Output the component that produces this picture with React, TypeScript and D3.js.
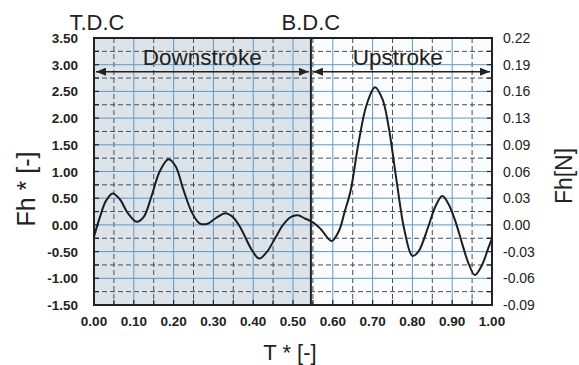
import React, { useEffect, useRef } from 'react';
import * as d3 from 'd3';

// Curve: T* (0..1) vs Fh* [-]
const tValues = [
  0.0, 0.015, 0.03, 0.047, 0.065, 0.085, 0.107, 0.125, 0.145, 0.165, 0.187, 0.205, 0.225, 0.245,
  0.265, 0.285, 0.305, 0.33, 0.35, 0.37, 0.395, 0.415, 0.435, 0.455, 0.475, 0.495, 0.512, 0.53,
  0.55, 0.57, 0.597, 0.615, 0.63, 0.645, 0.665, 0.685, 0.706, 0.725, 0.74, 0.76, 0.78, 0.8,
  0.815, 0.84, 0.858, 0.875, 0.89, 0.907, 0.925, 0.94, 0.957, 0.975, 0.99, 1.0,
];
const fhValues = [
  -0.22, 0.15, 0.45, 0.59, 0.48, 0.22, 0.06, 0.15, 0.55, 1.0, 1.23, 1.1, 0.65, 0.25,
  0.03, 0.02, 0.12, 0.22, 0.14, -0.08, -0.45, -0.63, -0.5, -0.25, 0.0, 0.15, 0.18, 0.12,
  0.05, -0.08, -0.3, -0.12, 0.25, 0.65, 1.55, 2.25, 2.58, 2.35, 1.85, 0.84, -0.1, -0.58,
  -0.5, -0.03, 0.35, 0.54, 0.4, 0.09, -0.35, -0.7, -0.94, -0.75, -0.45, -0.25,
];

const xTicks = [0, 0.1, 0.2, 0.3, 0.4, 0.5, 0.6, 0.7, 0.8, 0.9, 1.0];
const yTicks = [-1.5, -1.0, -0.5, 0, 0.5, 1.0, 1.5, 2.0, 2.5, 3.0, 3.5];
const rightTickLabels = ['-0.09', '-0.06', '-0.03', '0.00', '0.03', '0.06', '0.09', '0.13', '0.16', '0.19', '0.22'];

const bdc = 0.545; // boundary between the two strokes

const W = 579;
const H = 365;
const FONT = '"Liberation Sans", Arial, sans-serif';

const App = () => {
  const ref = useRef<SVGSVGElement>(null);

  useEffect(() => {
    const svg = d3.select(ref.current);
    svg.selectAll('*').remove();

    const x = d3.scaleLinear().domain([0, 1]).range([94, 492]);
    const y = d3.scaleLinear().domain([-1.5, 3.5]).range([305, 38]);

    // arrow markers
    const defs = svg.append('defs');
    defs.append('marker')
      .attr('id', 'ah')
      .attr('viewBox', '0 0 10 8')
      .attr('refX', 10)
      .attr('refY', 4)
      .attr('markerWidth', 10)
      .attr('markerHeight', 8)
      .attr('markerUnits', 'userSpaceOnUse')
      .attr('orient', 'auto-start-reverse')
      .append('path')
      .attr('d', 'M0,0 L10,4 L0,8 Z')
      .attr('fill', '#222');

    // backgrounds
    svg.append('rect')
      .attr('x', x(0)).attr('y', y(3.5))
      .attr('width', x(1) - x(0)).attr('height', y(-1.5) - y(3.5))
      .attr('fill', '#fbfcfd');
    svg.append('rect')
      .attr('x', x(0)).attr('y', y(3.5))
      .attr('width', x(bdc) - x(0)).attr('height', y(-1.5) - y(3.5))
      .attr('fill', '#dce3e9');

    const grid = svg.append('g');
    // dashed minor gridlines
    const minorX = d3.range(0.05, 1, 0.1);
    const minorY = d3.range(-1.25, 3.5, 0.5);
    grid.selectAll('.mx').data(minorX).enter().append('line')
      .attr('x1', d => x(d)).attr('x2', d => x(d))
      .attr('y1', y(3.5)).attr('y2', y(-1.5))
      .attr('stroke', '#4a4f55').attr('stroke-width', 1).attr('stroke-dasharray', '5,3');
    grid.selectAll('.my').data(minorY).enter().append('line')
      .attr('x1', x(0)).attr('x2', x(1))
      .attr('y1', d => y(d)).attr('y2', d => y(d))
      .attr('stroke', '#4a4f55').attr('stroke-width', 1).attr('stroke-dasharray', '5,3');
    // solid blue gridlines
    grid.selectAll('.gx').data(xTicks.slice(1, -1)).enter().append('line')
      .attr('x1', d => x(d)).attr('x2', d => x(d))
      .attr('y1', y(3.5)).attr('y2', y(-1.5))
      .attr('stroke', '#5f98c8').attr('stroke-width', 1);
    grid.selectAll('.gy').data(yTicks.slice(1, -1)).enter().append('line')
      .attr('x1', x(0)).attr('x2', x(1))
      .attr('y1', d => y(d)).attr('y2', d => y(d))
      .attr('stroke', '#5f98c8').attr('stroke-width', 1);

    // small inner ticks on the frame
    const tickG = svg.append('g').attr('stroke', '#222').attr('stroke-width', 1.2);
    minorY.concat(yTicks).forEach(v => {
      tickG.append('line').attr('x1', x(0)).attr('x2', x(0) + 5).attr('y1', y(v)).attr('y2', y(v));
      tickG.append('line').attr('x1', x(1)).attr('x2', x(1) - 5).attr('y1', y(v)).attr('y2', y(v));
    });
    minorX.concat(xTicks).forEach(v => {
      tickG.append('line').attr('x1', x(v)).attr('x2', x(v)).attr('y1', y(-1.5)).attr('y2', y(-1.5) - 5);
    });

    // stroke boundary
    svg.append('line')
      .attr('x1', x(bdc)).attr('x2', x(bdc))
      .attr('y1', y(3.5)).attr('y2', y(-1.5))
      .attr('stroke', '#222').attr('stroke-width', 2);

    // frame
    svg.append('rect')
      .attr('x', x(0)).attr('y', y(3.5))
      .attr('width', x(1) - x(0)).attr('height', y(-1.5) - y(3.5))
      .attr('fill', 'none').attr('stroke', '#222').attr('stroke-width', 2);

    // curve
    const pts = tValues.map((t, i) => [t, fhValues[i]] as [number, number]);
    const line = d3.line<[number, number]>()
      .x(d => x(d[0]))
      .y(d => y(d[1]))
      .curve(d3.curveCatmullRom.alpha(0.5));
    svg.append('path')
      .attr('d', line(pts))
      .attr('fill', 'none')
      .attr('stroke', '#1e1e1e')
      .attr('stroke-width', 2);

    // stroke arrows
    const arrowY = 71.7;
    [[0, bdc], [bdc, 1]].forEach(([a, b]) => {
      svg.append('line')
        .attr('x1', x(a) + 2).attr('x2', x(b) - 2)
        .attr('y1', arrowY).attr('y2', arrowY)
        .attr('stroke', '#222').attr('stroke-width', 1.6)
        .attr('marker-start', 'url(#ah)')
        .attr('marker-end', 'url(#ah)');
    });
    svg.append('text')
      .attr('x', x(0.272)).attr('y', 65)
      .attr('text-anchor', 'middle')
      .attr('font-family', FONT).attr('font-size', 22.5).attr('fill', '#222')
      .text('Downstroke');
    svg.append('text')
      .attr('x', x(0.763)).attr('y', 65)
      .attr('text-anchor', 'middle')
      .attr('font-family', FONT).attr('font-size', 22.5).attr('fill', '#222')
      .text('Upstroke');

    // T.D.C / B.D.C
    svg.append('text')
      .attr('x', x(0) + 3).attr('y', 30)
      .attr('text-anchor', 'middle')
      .attr('font-family', FONT).attr('font-size', 22).attr('fill', '#222')
      .text('T.D.C');
    svg.append('text')
      .attr('x', x(bdc)).attr('y', 30)
      .attr('text-anchor', 'middle')
      .attr('font-family', FONT).attr('font-size', 22).attr('fill', '#222')
      .text('B.D.C');

    // left tick labels
    svg.selectAll('.yl').data(yTicks).enter().append('text')
      .attr('x', 78).attr('y', d => y(d) + 5)
      .attr('text-anchor', 'end')
      .attr('font-family', FONT).attr('font-size', 13.5).attr('font-weight', 'bold').attr('fill', '#222')
      .text(d => d.toFixed(2));

    // right tick labels
    svg.selectAll('.yr').data(yTicks).enter().append('text')
      .attr('x', 503).attr('y', (d) => y(d) + 5)
      .attr('font-family', FONT).attr('font-size', 14).attr('fill', '#222')
      .text((d, i) => rightTickLabels[i]);

    // x tick labels
    svg.selectAll('.xl').data(xTicks).enter().append('text')
      .attr('x', d => x(d)).attr('y', 325.5)
      .attr('text-anchor', 'middle')
      .attr('font-family', FONT).attr('font-size', 13.5).attr('font-weight', 'bold').attr('fill', '#222')
      .text(d => d.toFixed(2));

    // axis titles
    svg.append('text')
      .attr('transform', 'translate(35,189) rotate(-90)')
      .attr('text-anchor', 'middle')
      .attr('font-family', FONT).attr('font-size', 25).attr('fill', '#222')
      .text('Fh * [-]');
    svg.append('text')
      .attr('transform', 'translate(572,176) rotate(-90)')
      .attr('text-anchor', 'middle')
      .attr('font-family', FONT).attr('font-size', 23).attr('fill', '#222')
      .text('Fh[N]');
    svg.append('text')
      .attr('x', 290).attr('y', 360)
      .attr('text-anchor', 'middle')
      .attr('font-family', FONT).attr('font-size', 22).attr('fill', '#222')
      .text('T * [-]');
  }, []);

  return (
    <svg
      ref={ref}
      width={W}
      height={H}
      style={{ position: 'absolute', left: 0, top: 0, background: '#fff' }}
    />
  );
};

export default App;
